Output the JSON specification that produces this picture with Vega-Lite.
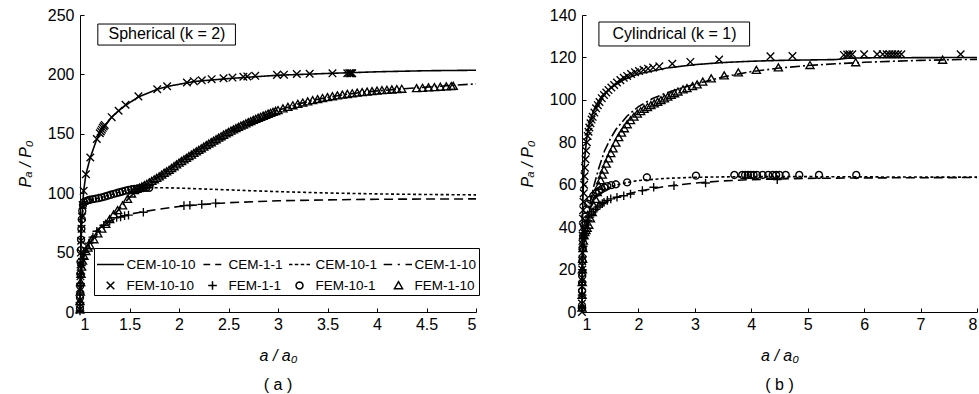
{
  "$schema": "https://vega.github.io/schema/vega-lite/v6.json",
  "background": "white",
  "padding": {"left": 17, "top": 7, "right": 0, "bottom": 0},
  "spacing": 39,
  "config": {
    "font": "Liberation Sans",
    "view": {"stroke": null},
    "axis": {
      "grid": false,
      "domainColor": "black",
      "domainWidth": 1,
      "tickColor": "black",
      "tickSize": -4,
      "labelColor": "black",
      "labelFontSize": 16,
      "labelFont": "Liberation Sans",
      "titleColor": "black",
      "titleFontSize": 16,
      "titleFont": "Liberation Sans",
      "titleFontWeight": "normal",
      "titleFontStyle": "italic"
    },
    "axisX": {"labelPadding": 8, "titlePadding": 15},
    "axisY": {"labelPadding": 10, "titlePadding": 14},
    "legend": {"labelFont": "Liberation Sans"},
    "title": {"font": "Liberation Sans", "fontSize": 16, "fontWeight": "normal", "color": "black"}
  },
  "datasets": {
    "sphCEM": [
      {"x":1,"y":0,"series":"CEM-10-10"},{"x":1.002,"y":20,"series":"CEM-10-10"},{"x":1.005,"y":40,"series":"CEM-10-10"},{"x":1.01,"y":60,"series":"CEM-10-10"},{"x":1.017,"y":75,"series":"CEM-10-10"},{"x":1.025,"y":88,"series":"CEM-10-10"},{"x":1.037,"y":102,"series":"CEM-10-10"},{"x":1.06,"y":116,"series":"CEM-10-10"},{"x":1.104,"y":130,"series":"CEM-10-10"},{"x":1.17,"y":145.6,"series":"CEM-10-10"},{"x":1.22,"y":153,"series":"CEM-10-10"},{"x":1.32,"y":164,"series":"CEM-10-10"},{"x":1.39,"y":169.4,"series":"CEM-10-10"},{"x":1.46,"y":174,"series":"CEM-10-10"},{"x":1.59,"y":181,"series":"CEM-10-10"},{"x":1.78,"y":187.5,"series":"CEM-10-10"},{"x":1.88,"y":189.8,"series":"CEM-10-10"},{"x":2.15,"y":194,"series":"CEM-10-10"},{"x":2.5,"y":196.5,"series":"CEM-10-10"},{"x":3,"y":199.3,"series":"CEM-10-10"},{"x":3.5,"y":200.8,"series":"CEM-10-10"},{"x":4,"y":202.2,"series":"CEM-10-10"},{"x":4.5,"y":203.1,"series":"CEM-10-10"},{"x":5,"y":203.5,"series":"CEM-10-10"},
      {"x":1,"y":0,"series":"CEM-1-1"},{"x":1.003,"y":15,"series":"CEM-1-1"},{"x":1.008,"y":28,"series":"CEM-1-1"},{"x":1.015,"y":38,"series":"CEM-1-1"},{"x":1.03,"y":47,"series":"CEM-1-1"},{"x":1.05,"y":53,"series":"CEM-1-1"},{"x":1.08,"y":58.5,"series":"CEM-1-1"},{"x":1.12,"y":64,"series":"CEM-1-1"},{"x":1.17,"y":69,"series":"CEM-1-1"},{"x":1.24,"y":73.5,"series":"CEM-1-1"},{"x":1.3,"y":76.5,"series":"CEM-1-1"},{"x":1.4,"y":80,"series":"CEM-1-1"},{"x":1.5,"y":82.3,"series":"CEM-1-1"},{"x":1.64,"y":84.5,"series":"CEM-1-1"},{"x":1.8,"y":86.6,"series":"CEM-1-1"},{"x":2,"y":88.8,"series":"CEM-1-1"},{"x":2.25,"y":90.6,"series":"CEM-1-1"},{"x":2.5,"y":92,"series":"CEM-1-1"},{"x":3,"y":93.6,"series":"CEM-1-1"},{"x":3.5,"y":94.4,"series":"CEM-1-1"},{"x":4,"y":94.9,"series":"CEM-1-1"},{"x":4.5,"y":95.1,"series":"CEM-1-1"},{"x":5,"y":95.2,"series":"CEM-1-1"},
      {"x":1,"y":0,"series":"CEM-10-1"},{"x":1.003,"y":25,"series":"CEM-10-1"},{"x":1.008,"y":50,"series":"CEM-10-1"},{"x":1.015,"y":70,"series":"CEM-10-1"},{"x":1.025,"y":83,"series":"CEM-10-1"},{"x":1.04,"y":90,"series":"CEM-10-1"},{"x":1.06,"y":92.8,"series":"CEM-10-1"},{"x":1.1,"y":94.3,"series":"CEM-10-1"},{"x":1.2,"y":96,"series":"CEM-10-1"},{"x":1.3,"y":98.5,"series":"CEM-10-1"},{"x":1.4,"y":101,"series":"CEM-10-1"},{"x":1.5,"y":103,"series":"CEM-10-1"},{"x":1.6,"y":104.1,"series":"CEM-10-1"},{"x":1.7,"y":104.6,"series":"CEM-10-1"},{"x":1.85,"y":104.6,"series":"CEM-10-1"},{"x":2,"y":104.3,"series":"CEM-10-1"},{"x":2.5,"y":102.8,"series":"CEM-10-1"},{"x":3,"y":101.3,"series":"CEM-10-1"},{"x":3.5,"y":100.2,"series":"CEM-10-1"},{"x":4,"y":99.4,"series":"CEM-10-1"},{"x":4.5,"y":98.9,"series":"CEM-10-1"},{"x":5,"y":98.6,"series":"CEM-10-1"},
      {"x":1,"y":0,"series":"CEM-1-10"},{"x":1.003,"y":14,"series":"CEM-1-10"},{"x":1.008,"y":26,"series":"CEM-1-10"},{"x":1.015,"y":35,"series":"CEM-1-10"},{"x":1.03,"y":44,"series":"CEM-1-10"},{"x":1.05,"y":50,"series":"CEM-1-10"},{"x":1.08,"y":55,"series":"CEM-1-10"},{"x":1.12,"y":60,"series":"CEM-1-10"},{"x":1.17,"y":65,"series":"CEM-1-10"},{"x":1.24,"y":72,"series":"CEM-1-10"},{"x":1.3,"y":77.5,"series":"CEM-1-10"},{"x":1.4,"y":87,"series":"CEM-1-10"},{"x":1.5,"y":96.5,"series":"CEM-1-10"},{"x":1.6,"y":104,"series":"CEM-1-10"},{"x":1.7,"y":109,"series":"CEM-1-10"},{"x":1.8,"y":114,"series":"CEM-1-10"},{"x":1.9,"y":119.5,"series":"CEM-1-10"},{"x":2,"y":125.5,"series":"CEM-1-10"},{"x":2.1,"y":131,"series":"CEM-1-10"},{"x":2.2,"y":136.3,"series":"CEM-1-10"},{"x":2.3,"y":141.5,"series":"CEM-1-10"},{"x":2.4,"y":146.5,"series":"CEM-1-10"},{"x":2.5,"y":151.3,"series":"CEM-1-10"},{"x":2.6,"y":155.6,"series":"CEM-1-10"},{"x":2.7,"y":159.6,"series":"CEM-1-10"},{"x":2.8,"y":163.3,"series":"CEM-1-10"},{"x":2.9,"y":166.7,"series":"CEM-1-10"},{"x":3,"y":169.8,"series":"CEM-1-10"},{"x":3.2,"y":175,"series":"CEM-1-10"},{"x":3.4,"y":179,"series":"CEM-1-10"},{"x":3.6,"y":182.1,"series":"CEM-1-10"},{"x":3.8,"y":184.4,"series":"CEM-1-10"},{"x":4,"y":186.1,"series":"CEM-1-10"},{"x":4.25,"y":187.8,"series":"CEM-1-10"},{"x":4.5,"y":189.3,"series":"CEM-1-10"},{"x":4.75,"y":190.7,"series":"CEM-1-10"},{"x":5,"y":192,"series":"CEM-1-10"}
    ],
    "sphFEM": [
      {"x":1,"y":2,"series":"FEM-10-10"},{"x":1,"y":10,"series":"FEM-10-10"},{"x":1.002,"y":20,"series":"FEM-10-10"},{"x":1.004,"y":30,"series":"FEM-10-10"},{"x":1.006,"y":40,"series":"FEM-10-10"},{"x":1.009,"y":50,"series":"FEM-10-10"},{"x":1.012,"y":60,"series":"FEM-10-10"},{"x":1.016,"y":70,"series":"FEM-10-10"},{"x":1.021,"y":80,"series":"FEM-10-10"},{"x":1.027,"y":90,"series":"FEM-10-10"},{"x":1.037,"y":102,"series":"FEM-10-10"},{"x":1.06,"y":116,"series":"FEM-10-10"},{"x":1.104,"y":130,"series":"FEM-10-10"},{"x":1.17,"y":145.6,"series":"FEM-10-10"},{"x":1.2,"y":150.5,"series":"FEM-10-10"},{"x":1.21,"y":152,"series":"FEM-10-10"},{"x":1.22,"y":153.5,"series":"FEM-10-10"},{"x":1.23,"y":155,"series":"FEM-10-10"},{"x":1.24,"y":156.3,"series":"FEM-10-10"},{"x":1.25,"y":157.5,"series":"FEM-10-10"},{"x":1.32,"y":164,"series":"FEM-10-10"},{"x":1.39,"y":169.4,"series":"FEM-10-10"},{"x":1.46,"y":174.5,"series":"FEM-10-10"},{"x":1.59,"y":181.5,"series":"FEM-10-10"},{"x":1.78,"y":187.5,"series":"FEM-10-10"},{"x":1.88,"y":190,"series":"FEM-10-10"},{"x":2.08,"y":193.2,"series":"FEM-10-10"},{"x":2.15,"y":194.3,"series":"FEM-10-10"},{"x":2.23,"y":195,"series":"FEM-10-10"},{"x":2.33,"y":196,"series":"FEM-10-10"},{"x":2.45,"y":196.8,"series":"FEM-10-10"},{"x":2.54,"y":197.3,"series":"FEM-10-10"},{"x":2.65,"y":198,"series":"FEM-10-10"},{"x":2.69,"y":198.3,"series":"FEM-10-10"},{"x":2.77,"y":198.8,"series":"FEM-10-10"},{"x":2.99,"y":199.6,"series":"FEM-10-10"},{"x":3.06,"y":199.8,"series":"FEM-10-10"},{"x":3.19,"y":200.3,"series":"FEM-10-10"},{"x":3.32,"y":200.5,"series":"FEM-10-10"},{"x":3.55,"y":200.9,"series":"FEM-10-10"},{"x":3.7,"y":201,"series":"FEM-10-10"},{"x":3.72,"y":201,"series":"FEM-10-10"},{"x":3.73,"y":201,"series":"FEM-10-10"},{"x":3.74,"y":201,"series":"FEM-10-10"},{"x":3.75,"y":201,"series":"FEM-10-10"},
      {"x":1,"y":1,"series":"FEM-1-1"},{"x":1,"y":8,"series":"FEM-1-1"},{"x":1.002,"y":16,"series":"FEM-1-1"},{"x":1.005,"y":24,"series":"FEM-1-1"},{"x":1.009,"y":32,"series":"FEM-1-1"},{"x":1.015,"y":39,"series":"FEM-1-1"},{"x":1.025,"y":45,"series":"FEM-1-1"},{"x":1.04,"y":50,"series":"FEM-1-1"},{"x":1.06,"y":54,"series":"FEM-1-1"},{"x":1.09,"y":58,"series":"FEM-1-1"},{"x":1.13,"y":63,"series":"FEM-1-1"},{"x":1.17,"y":68,"series":"FEM-1-1"},{"x":1.24,"y":73,"series":"FEM-1-1"},{"x":1.3,"y":76.5,"series":"FEM-1-1"},{"x":1.37,"y":79.5,"series":"FEM-1-1"},{"x":1.41,"y":80,"series":"FEM-1-1"},{"x":1.45,"y":81,"series":"FEM-1-1"},{"x":1.49,"y":81.6,"series":"FEM-1-1"},{"x":1.64,"y":84,"series":"FEM-1-1"},{"x":2.05,"y":89.5,"series":"FEM-1-1"},{"x":2.11,"y":89.9,"series":"FEM-1-1"},{"x":2.23,"y":90.6,"series":"FEM-1-1"},{"x":2.37,"y":91.7,"series":"FEM-1-1"},
      {"x":1,"y":3,"series":"FEM-10-1"},{"x":1,"y":12,"series":"FEM-10-1"},{"x":1.002,"y":22,"series":"FEM-10-1"},{"x":1.004,"y":32,"series":"FEM-10-1"},{"x":1.006,"y":42,"series":"FEM-10-1"},{"x":1.008,"y":52,"series":"FEM-10-1"},{"x":1.011,"y":61,"series":"FEM-10-1"},{"x":1.014,"y":70,"series":"FEM-10-1"},{"x":1.018,"y":78,"series":"FEM-10-1"},{"x":1.023,"y":85,"series":"FEM-10-1"},{"x":1.03,"y":90,"series":"FEM-10-1"},{"x":1.04,"y":92.5,"series":"FEM-10-1"},{"x":1.06,"y":93.3,"series":"FEM-10-1"},{"x":1.08,"y":94,"series":"FEM-10-1"},{"x":1.1,"y":94.5,"series":"FEM-10-1"},{"x":1.13,"y":95,"series":"FEM-10-1"},{"x":1.16,"y":95.4,"series":"FEM-10-1"},{"x":1.19,"y":95.9,"series":"FEM-10-1"},{"x":1.22,"y":96.5,"series":"FEM-10-1"},{"x":1.25,"y":97.2,"series":"FEM-10-1"},{"x":1.28,"y":97.9,"series":"FEM-10-1"},{"x":1.31,"y":98.7,"series":"FEM-10-1"},{"x":1.34,"y":99.4,"series":"FEM-10-1"},{"x":1.37,"y":100.1,"series":"FEM-10-1"},{"x":1.4,"y":100.8,"series":"FEM-10-1"},{"x":1.43,"y":101.5,"series":"FEM-10-1"},{"x":1.46,"y":102.2,"series":"FEM-10-1"},{"x":1.49,"y":102.8,"series":"FEM-10-1"},{"x":1.52,"y":103.3,"series":"FEM-10-1"},{"x":1.55,"y":103.6,"series":"FEM-10-1"},{"x":1.58,"y":103.9,"series":"FEM-10-1"},{"x":1.61,"y":104.1,"series":"FEM-10-1"},{"x":1.64,"y":104.3,"series":"FEM-10-1"},{"x":1.67,"y":104.5,"series":"FEM-10-1"},{"x":1.7,"y":104.6,"series":"FEM-10-1"},
      {"x":1,"y":2,"series":"FEM-1-10"},{"x":1,"y":9,"series":"FEM-1-10"},{"x":1.003,"y":17,"series":"FEM-1-10"},{"x":1.006,"y":25,"series":"FEM-1-10"},{"x":1.01,"y":32,"series":"FEM-1-10"},{"x":1.016,"y":38,"series":"FEM-1-10"},{"x":1.025,"y":43,"series":"FEM-1-10"},{"x":1.04,"y":47,"series":"FEM-1-10"},{"x":1.06,"y":51,"series":"FEM-1-10"},{"x":1.08,"y":54,"series":"FEM-1-10"},{"x":1.1,"y":56,"series":"FEM-1-10"},{"x":1.14,"y":61,"series":"FEM-1-10"},{"x":1.18,"y":66,"series":"FEM-1-10"},{"x":1.22,"y":70,"series":"FEM-1-10"},{"x":1.26,"y":74,"series":"FEM-1-10"},{"x":1.3,"y":78,"series":"FEM-1-10"},{"x":1.34,"y":82,"series":"FEM-1-10"},{"x":1.38,"y":85.5,"series":"FEM-1-10"},{"x":1.43,"y":89.5,"series":"FEM-1-10"},{"x":1.48,"y":95,"series":"FEM-1-10"},{"x":1.52,"y":99.5,"series":"FEM-1-10"},
      {"x":1.55,"y":102.5,"series":"FEM-1-10"},{"x":1.575,"y":103.5,"series":"FEM-1-10"},{"x":1.6,"y":104.5,"series":"FEM-1-10"},{"x":1.625,"y":105.5,"series":"FEM-1-10"},{"x":1.65,"y":106.5,"series":"FEM-1-10"},{"x":1.675,"y":107.7,"series":"FEM-1-10"},{"x":1.7,"y":109,"series":"FEM-1-10"},{"x":1.725,"y":110.2,"series":"FEM-1-10"},{"x":1.75,"y":111.5,"series":"FEM-1-10"},{"x":1.775,"y":112.7,"series":"FEM-1-10"},{"x":1.8,"y":114,"series":"FEM-1-10"},{"x":1.825,"y":115.5,"series":"FEM-1-10"},{"x":1.85,"y":117,"series":"FEM-1-10"},{"x":1.875,"y":118.2,"series":"FEM-1-10"},{"x":1.9,"y":119.5,"series":"FEM-1-10"},{"x":1.925,"y":121,"series":"FEM-1-10"},{"x":1.95,"y":122.5,"series":"FEM-1-10"},{"x":1.975,"y":124,"series":"FEM-1-10"},{"x":2,"y":125.5,"series":"FEM-1-10"},{"x":2.025,"y":126.9,"series":"FEM-1-10"},{"x":2.05,"y":128.3,"series":"FEM-1-10"},{"x":2.075,"y":129.6,"series":"FEM-1-10"},{"x":2.1,"y":131,"series":"FEM-1-10"},{"x":2.125,"y":132.3,"series":"FEM-1-10"},{"x":2.15,"y":133.7,"series":"FEM-1-10"},{"x":2.175,"y":135,"series":"FEM-1-10"},{"x":2.2,"y":136.3,"series":"FEM-1-10"},{"x":2.225,"y":137.6,"series":"FEM-1-10"},{"x":2.25,"y":139,"series":"FEM-1-10"},{"x":2.275,"y":140.2,"series":"FEM-1-10"},{"x":2.3,"y":141.5,"series":"FEM-1-10"},{"x":2.325,"y":142.7,"series":"FEM-1-10"},{"x":2.35,"y":144,"series":"FEM-1-10"},{"x":2.375,"y":145.2,"series":"FEM-1-10"},{"x":2.4,"y":146.5,"series":"FEM-1-10"},{"x":2.425,"y":147.7,"series":"FEM-1-10"},{"x":2.45,"y":149,"series":"FEM-1-10"},{"x":2.475,"y":150.1,"series":"FEM-1-10"},{"x":2.5,"y":151.3,"series":"FEM-1-10"},{"x":2.525,"y":152.4,"series":"FEM-1-10"},{"x":2.55,"y":153.5,"series":"FEM-1-10"},{"x":2.575,"y":154.5,"series":"FEM-1-10"},{"x":2.6,"y":155.6,"series":"FEM-1-10"},{"x":2.625,"y":156.6,"series":"FEM-1-10"},{"x":2.65,"y":157.6,"series":"FEM-1-10"},{"x":2.675,"y":158.6,"series":"FEM-1-10"},{"x":2.7,"y":159.6,"series":"FEM-1-10"},{"x":2.725,"y":160.5,"series":"FEM-1-10"},{"x":2.75,"y":161.5,"series":"FEM-1-10"},{"x":2.775,"y":162.4,"series":"FEM-1-10"},{"x":2.8,"y":163.3,"series":"FEM-1-10"},{"x":2.825,"y":164.1,"series":"FEM-1-10"},{"x":2.85,"y":165,"series":"FEM-1-10"},{"x":2.875,"y":165.8,"series":"FEM-1-10"},{"x":2.9,"y":166.7,"series":"FEM-1-10"},{"x":2.925,"y":167.5,"series":"FEM-1-10"},{"x":2.95,"y":168.3,"series":"FEM-1-10"},{"x":2.975,"y":169,"series":"FEM-1-10"},{"x":3,"y":169.8,"series":"FEM-1-10"},{"x":3.05,"y":171.2,"series":"FEM-1-10"},{"x":3.1,"y":172.5,"series":"FEM-1-10"},{"x":3.15,"y":173.8,"series":"FEM-1-10"},{"x":3.2,"y":175,"series":"FEM-1-10"},{"x":3.25,"y":176.1,"series":"FEM-1-10"},{"x":3.3,"y":177.1,"series":"FEM-1-10"},{"x":3.35,"y":178.1,"series":"FEM-1-10"},{"x":3.4,"y":179,"series":"FEM-1-10"},{"x":3.45,"y":179.9,"series":"FEM-1-10"},{"x":3.5,"y":180.7,"series":"FEM-1-10"},{"x":3.55,"y":181.4,"series":"FEM-1-10"},{"x":3.6,"y":182.1,"series":"FEM-1-10"},{"x":3.65,"y":182.7,"series":"FEM-1-10"},{"x":3.7,"y":183.3,"series":"FEM-1-10"},{"x":3.75,"y":183.9,"series":"FEM-1-10"},{"x":3.8,"y":184.4,"series":"FEM-1-10"},{"x":3.85,"y":184.9,"series":"FEM-1-10"},{"x":3.9,"y":185.3,"series":"FEM-1-10"},{"x":3.95,"y":185.7,"series":"FEM-1-10"},{"x":4,"y":186.1,"series":"FEM-1-10"},{"x":4.05,"y":186.5,"series":"FEM-1-10"},{"x":4.1,"y":186.8,"series":"FEM-1-10"},{"x":4.15,"y":187.1,"series":"FEM-1-10"},{"x":4.2,"y":187.4,"series":"FEM-1-10"},{"x":4.25,"y":187.7,"series":"FEM-1-10"},{"x":4.4,"y":188.2,"series":"FEM-1-10"},{"x":4.46,"y":188.5,"series":"FEM-1-10"},{"x":4.52,"y":188.8,"series":"FEM-1-10"},{"x":4.58,"y":189.1,"series":"FEM-1-10"},{"x":4.64,"y":189.4,"series":"FEM-1-10"},{"x":4.7,"y":189.7,"series":"FEM-1-10"},{"x":4.75,"y":190,"series":"FEM-1-10"},{"x":4.77,"y":190.1,"series":"FEM-1-10"}
    ],
    "cylCEM": [
      {"x":1,"y":0,"series":"CEM-10-10"},{"x":1.003,"y":25,"series":"CEM-10-10"},{"x":1.008,"y":40,"series":"CEM-10-10"},{"x":1.015,"y":52,"series":"CEM-10-10"},{"x":1.03,"y":64,"series":"CEM-10-10"},{"x":1.05,"y":73,"series":"CEM-10-10"},{"x":1.08,"y":81,"series":"CEM-10-10"},{"x":1.12,"y":87.5,"series":"CEM-10-10"},{"x":1.17,"y":92.5,"series":"CEM-10-10"},{"x":1.25,"y":97.5,"series":"CEM-10-10"},{"x":1.35,"y":101.8,"series":"CEM-10-10"},{"x":1.5,"y":105.5,"series":"CEM-10-10"},{"x":1.75,"y":109.6,"series":"CEM-10-10"},{"x":2,"y":112.2,"series":"CEM-10-10"},{"x":2.5,"y":115,"series":"CEM-10-10"},{"x":3,"y":116.6,"series":"CEM-10-10"},{"x":3.5,"y":117.6,"series":"CEM-10-10"},{"x":4,"y":118.2,"series":"CEM-10-10"},{"x":4.5,"y":118.6,"series":"CEM-10-10"},{"x":5,"y":118.8,"series":"CEM-10-10"},{"x":5.5,"y":119,"series":"CEM-10-10"},{"x":5.7,"y":119.6,"series":"CEM-10-10"},{"x":6,"y":119.8,"series":"CEM-10-10"},{"x":7,"y":119.9,"series":"CEM-10-10"},{"x":8,"y":120,"series":"CEM-10-10"},
      {"x":1,"y":0,"series":"CEM-1-1"},{"x":1.003,"y":12,"series":"CEM-1-1"},{"x":1.008,"y":20,"series":"CEM-1-1"},{"x":1.015,"y":26,"series":"CEM-1-1"},{"x":1.03,"y":32,"series":"CEM-1-1"},{"x":1.06,"y":37,"series":"CEM-1-1"},{"x":1.1,"y":41,"series":"CEM-1-1"},{"x":1.15,"y":44,"series":"CEM-1-1"},{"x":1.2,"y":46.3,"series":"CEM-1-1"},{"x":1.3,"y":49.5,"series":"CEM-1-1"},{"x":1.4,"y":51.6,"series":"CEM-1-1"},{"x":1.6,"y":54,"series":"CEM-1-1"},{"x":1.8,"y":55.6,"series":"CEM-1-1"},{"x":2,"y":56.9,"series":"CEM-1-1"},{"x":2.5,"y":59.3,"series":"CEM-1-1"},{"x":3,"y":60.8,"series":"CEM-1-1"},{"x":3.5,"y":61.8,"series":"CEM-1-1"},{"x":4,"y":62.4,"series":"CEM-1-1"},{"x":5,"y":63,"series":"CEM-1-1"},{"x":6,"y":63.2,"series":"CEM-1-1"},{"x":7,"y":63.3,"series":"CEM-1-1"},{"x":8,"y":63.4,"series":"CEM-1-1"},
      {"x":1,"y":0,"series":"CEM-10-1"},{"x":1.003,"y":14,"series":"CEM-10-1"},{"x":1.008,"y":24,"series":"CEM-10-1"},{"x":1.015,"y":31,"series":"CEM-10-1"},{"x":1.03,"y":38,"series":"CEM-10-1"},{"x":1.06,"y":43.5,"series":"CEM-10-1"},{"x":1.1,"y":47.5,"series":"CEM-10-1"},{"x":1.2,"y":52.5,"series":"CEM-10-1"},{"x":1.3,"y":55.8,"series":"CEM-10-1"},{"x":1.4,"y":57.8,"series":"CEM-10-1"},{"x":1.6,"y":59.8,"series":"CEM-10-1"},{"x":1.8,"y":61,"series":"CEM-10-1"},{"x":2,"y":62,"series":"CEM-10-1"},{"x":2.5,"y":63,"series":"CEM-10-1"},{"x":3,"y":63.5,"series":"CEM-10-1"},{"x":3.5,"y":63.7,"series":"CEM-10-1"},{"x":4,"y":63.8,"series":"CEM-10-1"},{"x":5,"y":63.8,"series":"CEM-10-1"},{"x":6,"y":63.7,"series":"CEM-10-1"},{"x":7,"y":63.6,"series":"CEM-10-1"},{"x":8,"y":63.6,"series":"CEM-10-1"},
      {"x":1,"y":0,"series":"CEM-1-10"},{"x":1.003,"y":10,"series":"CEM-1-10"},{"x":1.008,"y":18,"series":"CEM-1-10"},{"x":1.015,"y":25,"series":"CEM-1-10"},{"x":1.03,"y":31,"series":"CEM-1-10"},{"x":1.06,"y":37.5,"series":"CEM-1-10"},{"x":1.1,"y":44,"series":"CEM-1-10"},{"x":1.15,"y":52,"series":"CEM-1-10"},{"x":1.2,"y":58.5,"series":"CEM-1-10"},{"x":1.3,"y":68,"series":"CEM-1-10"},{"x":1.4,"y":76,"series":"CEM-1-10"},{"x":1.5,"y":81.5,"series":"CEM-1-10"},{"x":1.6,"y":86,"series":"CEM-1-10"},{"x":1.8,"y":92.4,"series":"CEM-1-10"},{"x":2,"y":96.8,"series":"CEM-1-10"},{"x":2.25,"y":100.6,"series":"CEM-1-10"},{"x":2.5,"y":103.3,"series":"CEM-1-10"},{"x":2.75,"y":105.5,"series":"CEM-1-10"},{"x":3,"y":107.4,"series":"CEM-1-10"},{"x":3.5,"y":110.8,"series":"CEM-1-10"},{"x":4,"y":113.3,"series":"CEM-1-10"},{"x":4.5,"y":115,"series":"CEM-1-10"},{"x":5,"y":116.2,"series":"CEM-1-10"},{"x":5.5,"y":117,"series":"CEM-1-10"},{"x":6,"y":117.7,"series":"CEM-1-10"},{"x":6.5,"y":118.2,"series":"CEM-1-10"},{"x":7,"y":118.6,"series":"CEM-1-10"},{"x":7.5,"y":118.9,"series":"CEM-1-10"},{"x":8,"y":119.1,"series":"CEM-1-10"}
    ],
    "cylFEM": [
      {"x":1,"y":0,"series":"FEM-10-10"},{"x":1,"y":4,"series":"FEM-10-10"},{"x":1.001,"y":8,"series":"FEM-10-10"},{"x":1.002,"y":12,"series":"FEM-10-10"},{"x":1.003,"y":16,"series":"FEM-10-10"},{"x":1.004,"y":20,"series":"FEM-10-10"},{"x":1.005,"y":24,"series":"FEM-10-10"},{"x":1.007,"y":28,"series":"FEM-10-10"},{"x":1.009,"y":32,"series":"FEM-10-10"},{"x":1.011,"y":36,"series":"FEM-10-10"},{"x":1.014,"y":40,"series":"FEM-10-10"},{"x":1.017,"y":44,"series":"FEM-10-10"},{"x":1.021,"y":48,"series":"FEM-10-10"},{"x":1.026,"y":52,"series":"FEM-10-10"},{"x":1.031,"y":56,"series":"FEM-10-10"},{"x":1.037,"y":60,"series":"FEM-10-10"},{"x":1.044,"y":64,"series":"FEM-10-10"},{"x":1.052,"y":68,"series":"FEM-10-10"},{"x":1.062,"y":72,"series":"FEM-10-10"},{"x":1.073,"y":76,"series":"FEM-10-10"},{"x":1.086,"y":80,"series":"FEM-10-10"},{"x":1.1,"y":83,"series":"FEM-10-10"},{"x":1.115,"y":85,"series":"FEM-10-10"},{"x":1.13,"y":87,"series":"FEM-10-10"},{"x":1.15,"y":89,"series":"FEM-10-10"},{"x":1.17,"y":90.7,"series":"FEM-10-10"},{"x":1.19,"y":92,"series":"FEM-10-10"},{"x":1.22,"y":94,"series":"FEM-10-10"},{"x":1.25,"y":96,"series":"FEM-10-10"},{"x":1.28,"y":97.5,"series":"FEM-10-10"},{"x":1.31,"y":99,"series":"FEM-10-10"},{"x":1.35,"y":100.8,"series":"FEM-10-10"},{"x":1.39,"y":102.3,"series":"FEM-10-10"},{"x":1.43,"y":103.5,"series":"FEM-10-10"},{"x":1.47,"y":104.6,"series":"FEM-10-10"},{"x":1.52,"y":105.8,"series":"FEM-10-10"},{"x":1.57,"y":107,"series":"FEM-10-10"},{"x":1.62,"y":108.2,"series":"FEM-10-10"},{"x":1.68,"y":109.3,"series":"FEM-10-10"},{"x":1.74,"y":110.4,"series":"FEM-10-10"},{"x":1.8,"y":111.3,"series":"FEM-10-10"},{"x":1.87,"y":112.2,"series":"FEM-10-10"},{"x":1.94,"y":113,"series":"FEM-10-10"},{"x":2.01,"y":113.6,"series":"FEM-10-10"},{"x":2.09,"y":114.2,"series":"FEM-10-10"},{"x":2.17,"y":114.7,"series":"FEM-10-10"},{"x":2.26,"y":115.2,"series":"FEM-10-10"},{"x":2.37,"y":115.8,"series":"FEM-10-10"},{"x":2.6,"y":117,"series":"FEM-10-10"},{"x":2.92,"y":117.9,"series":"FEM-10-10"},{"x":3.43,"y":119,"series":"FEM-10-10"},{"x":4.34,"y":120.5,"series":"FEM-10-10"},{"x":4.73,"y":120.7,"series":"FEM-10-10"},{"x":5.64,"y":121.2,"series":"FEM-10-10"},{"x":5.7,"y":121.4,"series":"FEM-10-10"},{"x":5.74,"y":121.5,"series":"FEM-10-10"},{"x":5.79,"y":121.5,"series":"FEM-10-10"},{"x":6,"y":121.5,"series":"FEM-10-10"},{"x":6.23,"y":121.5,"series":"FEM-10-10"},{"x":6.33,"y":121.5,"series":"FEM-10-10"},{"x":6.4,"y":121.5,"series":"FEM-10-10"},{"x":6.45,"y":121.5,"series":"FEM-10-10"},{"x":6.5,"y":121.5,"series":"FEM-10-10"},{"x":6.55,"y":121.5,"series":"FEM-10-10"},{"x":6.6,"y":121.5,"series":"FEM-10-10"},{"x":6.66,"y":121.5,"series":"FEM-10-10"},{"x":7.71,"y":121.5,"series":"FEM-10-10"},
      {"x":1,"y":2,"series":"FEM-1-1"},{"x":1.002,"y":8,"series":"FEM-1-1"},{"x":1.004,"y":14,"series":"FEM-1-1"},{"x":1.007,"y":20,"series":"FEM-1-1"},{"x":1.012,"y":26,"series":"FEM-1-1"},{"x":1.02,"y":31,"series":"FEM-1-1"},{"x":1.035,"y":35,"series":"FEM-1-1"},{"x":1.055,"y":38.5,"series":"FEM-1-1"},{"x":1.08,"y":41,"series":"FEM-1-1"},{"x":1.11,"y":43,"series":"FEM-1-1"},{"x":1.14,"y":44.7,"series":"FEM-1-1"},{"x":1.17,"y":46,"series":"FEM-1-1"},{"x":1.2,"y":47.2,"series":"FEM-1-1"},{"x":1.24,"y":48.4,"series":"FEM-1-1"},{"x":1.28,"y":49.5,"series":"FEM-1-1"},{"x":1.32,"y":50.4,"series":"FEM-1-1"},{"x":1.36,"y":51.1,"series":"FEM-1-1"},{"x":1.39,"y":51.7,"series":"FEM-1-1"},{"x":1.45,"y":52.6,"series":"FEM-1-1"},{"x":1.51,"y":53.3,"series":"FEM-1-1"},{"x":1.62,"y":54.1,"series":"FEM-1-1"},{"x":1.74,"y":54.8,"series":"FEM-1-1"},{"x":1.86,"y":55.6,"series":"FEM-1-1"},{"x":2.07,"y":57.2,"series":"FEM-1-1"},{"x":2.27,"y":58.8,"series":"FEM-1-1"},{"x":2.63,"y":59.6,"series":"FEM-1-1"},{"x":3.19,"y":60.8,"series":"FEM-1-1"},{"x":4.46,"y":62.4,"series":"FEM-1-1"},
      {"x":1,"y":3,"series":"FEM-10-1"},{"x":1.002,"y":10,"series":"FEM-10-1"},{"x":1.004,"y":17,"series":"FEM-10-1"},{"x":1.007,"y":24,"series":"FEM-10-1"},{"x":1.012,"y":30,"series":"FEM-10-1"},{"x":1.02,"y":36,"series":"FEM-10-1"},{"x":1.035,"y":41,"series":"FEM-10-1"},{"x":1.055,"y":45,"series":"FEM-10-1"},{"x":1.08,"y":48.5,"series":"FEM-10-1"},{"x":1.11,"y":51,"series":"FEM-10-1"},{"x":1.15,"y":53,"series":"FEM-10-1"},{"x":1.2,"y":54.8,"series":"FEM-10-1"},{"x":1.25,"y":56,"series":"FEM-10-1"},{"x":1.3,"y":57,"series":"FEM-10-1"},{"x":1.35,"y":57.9,"series":"FEM-10-1"},{"x":1.4,"y":58.6,"series":"FEM-10-1"},{"x":1.45,"y":59.3,"series":"FEM-10-1"},{"x":1.52,"y":59.8,"series":"FEM-10-1"},{"x":1.6,"y":60.2,"series":"FEM-10-1"},{"x":1.8,"y":61.1,"series":"FEM-10-1"},{"x":2.15,"y":63.5,"series":"FEM-10-1"},{"x":3.02,"y":64.3,"series":"FEM-10-1"},{"x":3.7,"y":64.6,"series":"FEM-10-1"},{"x":3.84,"y":64.6,"series":"FEM-10-1"},{"x":3.89,"y":64.6,"series":"FEM-10-1"},{"x":3.94,"y":64.6,"series":"FEM-10-1"},{"x":3.99,"y":64.6,"series":"FEM-10-1"},{"x":4.04,"y":64.6,"series":"FEM-10-1"},{"x":4.1,"y":64.6,"series":"FEM-10-1"},{"x":4.2,"y":64.6,"series":"FEM-10-1"},{"x":4.3,"y":64.6,"series":"FEM-10-1"},{"x":4.38,"y":64.6,"series":"FEM-10-1"},{"x":4.44,"y":64.6,"series":"FEM-10-1"},{"x":4.5,"y":64.6,"series":"FEM-10-1"},{"x":4.61,"y":64.6,"series":"FEM-10-1"},{"x":4.85,"y":64.6,"series":"FEM-10-1"},{"x":5.2,"y":64.6,"series":"FEM-10-1"},{"x":5.86,"y":64.6,"series":"FEM-10-1"},
      {"x":1,"y":2,"series":"FEM-1-10"},{"x":1.002,"y":8,"series":"FEM-1-10"},{"x":1.004,"y":14,"series":"FEM-1-10"},{"x":1.007,"y":20,"series":"FEM-1-10"},{"x":1.011,"y":25,"series":"FEM-1-10"},{"x":1.017,"y":30,"series":"FEM-1-10"},{"x":1.025,"y":33.5,"series":"FEM-1-10"},{"x":1.035,"y":36,"series":"FEM-1-10"},{"x":1.05,"y":37.5,"series":"FEM-1-10"},{"x":1.07,"y":38.5,"series":"FEM-1-10"},{"x":1.09,"y":39.5,"series":"FEM-1-10"},{"x":1.12,"y":41,"series":"FEM-1-10"},{"x":1.15,"y":44,"series":"FEM-1-10"},{"x":1.18,"y":47,"series":"FEM-1-10"},{"x":1.21,"y":50,"series":"FEM-1-10"},{"x":1.24,"y":53.2,"series":"FEM-1-10"},{"x":1.27,"y":56.4,"series":"FEM-1-10"},{"x":1.3,"y":59.4,"series":"FEM-1-10"},{"x":1.33,"y":62,"series":"FEM-1-10"},{"x":1.36,"y":64.6,"series":"FEM-1-10"},{"x":1.39,"y":67,"series":"FEM-1-10"},{"x":1.43,"y":69.8,"series":"FEM-1-10"},{"x":1.47,"y":72.3,"series":"FEM-1-10"},{"x":1.51,"y":74.8,"series":"FEM-1-10"},{"x":1.55,"y":77,"series":"FEM-1-10"},{"x":1.6,"y":79.7,"series":"FEM-1-10"},{"x":1.65,"y":82.3,"series":"FEM-1-10"},{"x":1.7,"y":84.4,"series":"FEM-1-10"},{"x":1.75,"y":86.5,"series":"FEM-1-10"},{"x":1.8,"y":88.4,"series":"FEM-1-10"},{"x":1.86,"y":90.3,"series":"FEM-1-10"},{"x":1.92,"y":92,"series":"FEM-1-10"},{"x":1.98,"y":93.4,"series":"FEM-1-10"},{"x":2.04,"y":94.6,"series":"FEM-1-10"},{"x":2.1,"y":95.6,"series":"FEM-1-10"},{"x":2.16,"y":96.5,"series":"FEM-1-10"},{"x":2.22,"y":97.4,"series":"FEM-1-10"},{"x":2.28,"y":98.2,"series":"FEM-1-10"},{"x":2.34,"y":99,"series":"FEM-1-10"},{"x":2.4,"y":99.8,"series":"FEM-1-10"},{"x":2.46,"y":100.6,"series":"FEM-1-10"},{"x":2.52,"y":101.4,"series":"FEM-1-10"},{"x":2.58,"y":102.2,"series":"FEM-1-10"},{"x":2.64,"y":103,"series":"FEM-1-10"},{"x":2.7,"y":103.8,"series":"FEM-1-10"},{"x":2.79,"y":104.8,"series":"FEM-1-10"},{"x":2.86,"y":105.4,"series":"FEM-1-10"},{"x":2.96,"y":106.4,"series":"FEM-1-10"},{"x":3.04,"y":107.2,"series":"FEM-1-10"},{"x":3.14,"y":108.5,"series":"FEM-1-10"},{"x":3.29,"y":110,"series":"FEM-1-10"},{"x":3.52,"y":111.4,"series":"FEM-1-10"},{"x":3.77,"y":112.8,"series":"FEM-1-10"},{"x":4.09,"y":114,"series":"FEM-1-10"},{"x":4.48,"y":115.2,"series":"FEM-1-10"},{"x":5.04,"y":116.3,"series":"FEM-1-10"},{"x":5.85,"y":117.6,"series":"FEM-1-10"},{"x":7.39,"y":118.8,"series":"FEM-1-10"}
    ]
  },
  "hconcat": [
    {
      "width": 396,
      "height": 297,
      "title": {"text": "( a )", "orient": "bottom", "anchor": "middle", "offset": 14},
      "encoding": {
        "x": {"type": "quantitative", "scale": {"domain": [1, 5], "nice": false, "zero": false},
              "axis": {"title": "a / a₀", "values": [1, 1.5, 2, 2.5, 3, 3.5, 4, 4.5, 5], "format": "~g"}},
        "y": {"type": "quantitative", "scale": {"domain": [0, 250], "nice": false},
              "axis": {"title": "Pₐ / P₀", "values": [0, 50, 100, 150, 200, 250]}}
      },
      "layer": [
        {
          "data": {"values": [{}]},
          "mark": {"type": "rect", "fill": "white", "stroke": "black", "strokeWidth": 1},
          "encoding": {"x": {"datum": 1.18}, "x2": {"datum": 2.57}, "y": {"datum": 242.4}, "y2": {"datum": 224.7}}
        },
        {
          "data": {"values": [{"label": "Spherical (k = 2)"}]},
          "mark": {"type": "text", "fontSize": 16, "font": "Liberation Sans", "color": "black", "align": "center", "baseline": "middle"},
          "encoding": {"x": {"datum": 1.878}, "y": {"datum": 233.6}, "text": {"field": "label"}}
        },
        {
          "data": {"name": "sphCEM"},
          "mark": {"type": "line", "color": "black", "strokeWidth": 1.6},
          "encoding": {
            "x": {"field": "x", "type": "quantitative"},
            "y": {"field": "y", "type": "quantitative"},
            "strokeDash": {"field": "series", "type": "nominal", "legend": null,
              "scale": {"domain": ["CEM-10-10", "CEM-1-1", "CEM-10-1", "CEM-1-10"], "range": [[1, 0], [9, 5], [3, 2.5], [10, 3, 2, 3]]}}
          }
        },
        {
          "data": {"name": "sphFEM"},
          "mark": {"type": "point", "filled": false, "color": "black", "strokeWidth": 1.35, "size": 729, "opacity": 1},
          "encoding": {
            "x": {"field": "x", "type": "quantitative"},
            "y": {"field": "y", "type": "quantitative"},
            "shape": {"field": "series", "type": "nominal",
              "scale": {"domain": ["CEM-10-10", "CEM-1-1", "CEM-10-1", "CEM-1-10", "FEM-10-10", "FEM-1-1", "FEM-10-1", "FEM-1-10"],
                "range": ["M-1,0L1,0", "M-0.67,0L-0.17,0M0.2,0L0.65,0", "M-0.78,0L-0.52,0M-0.35,0L-0.09,0M0.09,0L0.35,0M0.52,0L0.78,0", "M-1.1,0L-0.47,0M-0.06,0L0.1,0M0.52,0L1,0",
                  "M-0.28,-0.28L0.28,0.28M-0.28,0.28L0.28,-0.28", "M-0.32,0L0.32,0M0,-0.32L0,0.32",
                  "M0.26,0L0.225,0.13L0.13,0.225L0,0.26L-0.13,0.225L-0.225,0.13L-0.26,0L-0.225,-0.13L-0.13,-0.225L0,-0.26L0.13,-0.225L0.225,-0.13Z",
                  "M0,-0.28L0.3,0.24L-0.3,0.24Z"]},
              "legend": {"title": null, "orient": "none", "legendX": 14, "legendY": 233, "columns": 4, "direction": "horizontal",
                "symbolSize": 729, "symbolStrokeWidth": 1.5, "symbolStrokeColor": "black", "symbolFillColor": "transparent",
                "labelFontSize": 13.5, "labelColor": "black", "labelOffset": 1.5, "columnPadding": 2, "rowPadding": -4.6,
                "padding": 2, "strokeColor": "black", "fillColor": "white", "labelLimit": 200}}
          }
        }
      ]
    },
    {
      "width": 395,
      "height": 297,
      "title": {"text": "( b )", "orient": "bottom", "anchor": "middle", "offset": 14},
      "encoding": {
        "x": {"type": "quantitative", "scale": {"domain": [1, 8], "nice": false, "zero": false},
              "axis": {"title": "a / a₀", "values": [1, 2, 3, 4, 5, 6, 7, 8], "format": "~g"}},
        "y": {"type": "quantitative", "scale": {"domain": [0, 140], "nice": false},
              "axis": {"title": "Pₐ / P₀", "values": [0, 20, 40, 60, 80, 100, 120, 140]}}
      },
      "layer": [
        {
          "data": {"values": [{}]},
          "mark": {"type": "rect", "fill": "white", "stroke": "black", "strokeWidth": 1},
          "encoding": {"x": {"datum": 1.3}, "x2": {"datum": 3.97}, "y": {"datum": 136.7}, "y2": {"datum": 125.4}}
        },
        {
          "data": {"values": [{"label": "Cylindrical (k = 1)"}]},
          "mark": {"type": "text", "fontSize": 16, "font": "Liberation Sans", "color": "black", "align": "center", "baseline": "middle"},
          "encoding": {"x": {"datum": 2.64}, "y": {"datum": 131}, "text": {"field": "label"}}
        },
        {
          "data": {"name": "cylCEM"},
          "mark": {"type": "line", "color": "black", "strokeWidth": 1.6},
          "encoding": {
            "x": {"field": "x", "type": "quantitative"},
            "y": {"field": "y", "type": "quantitative"},
            "strokeDash": {"field": "series", "type": "nominal", "legend": null,
              "scale": {"domain": ["CEM-10-10", "CEM-1-1", "CEM-10-1", "CEM-1-10"], "range": [[1, 0], [9, 5], [3, 2.5], [10, 3, 2, 3]]}}
          }
        },
        {
          "data": {"name": "cylFEM"},
          "mark": {"type": "point", "filled": false, "color": "black", "strokeWidth": 1.35, "size": 729, "opacity": 1},
          "encoding": {
            "x": {"field": "x", "type": "quantitative"},
            "y": {"field": "y", "type": "quantitative"},
            "shape": {"field": "series", "type": "nominal",
              "scale": {"domain": ["CEM-10-10", "CEM-1-1", "CEM-10-1", "CEM-1-10", "FEM-10-10", "FEM-1-1", "FEM-10-1", "FEM-1-10"],
                "range": ["M-1,0L1,0", "M-0.67,0L-0.17,0M0.2,0L0.65,0", "M-0.78,0L-0.52,0M-0.35,0L-0.09,0M0.09,0L0.35,0M0.52,0L0.78,0", "M-1.1,0L-0.47,0M-0.06,0L0.1,0M0.52,0L1,0",
                  "M-0.28,-0.28L0.28,0.28M-0.28,0.28L0.28,-0.28", "M-0.32,0L0.32,0M0,-0.32L0,0.32",
                  "M0.26,0L0.225,0.13L0.13,0.225L0,0.26L-0.13,0.225L-0.225,0.13L-0.26,0L-0.225,-0.13L-0.13,-0.225L0,-0.26L0.13,-0.225L0.225,-0.13Z",
                  "M0,-0.28L0.3,0.24L-0.3,0.24Z"]},
              "legend": {"title": null, "orient": "none", "legendX": 12, "legendY": 235, "columns": 4, "direction": "horizontal",
                "symbolSize": 729, "symbolStrokeWidth": 1.5, "symbolStrokeColor": "black", "symbolFillColor": "transparent",
                "labelFontSize": 13.5, "labelColor": "black", "labelOffset": 1.5, "columnPadding": 2, "rowPadding": -4.6,
                "padding": 2, "strokeColor": "black", "fillColor": "white", "labelLimit": 200}}
          }
        }
      ]
    }
  ]
}
